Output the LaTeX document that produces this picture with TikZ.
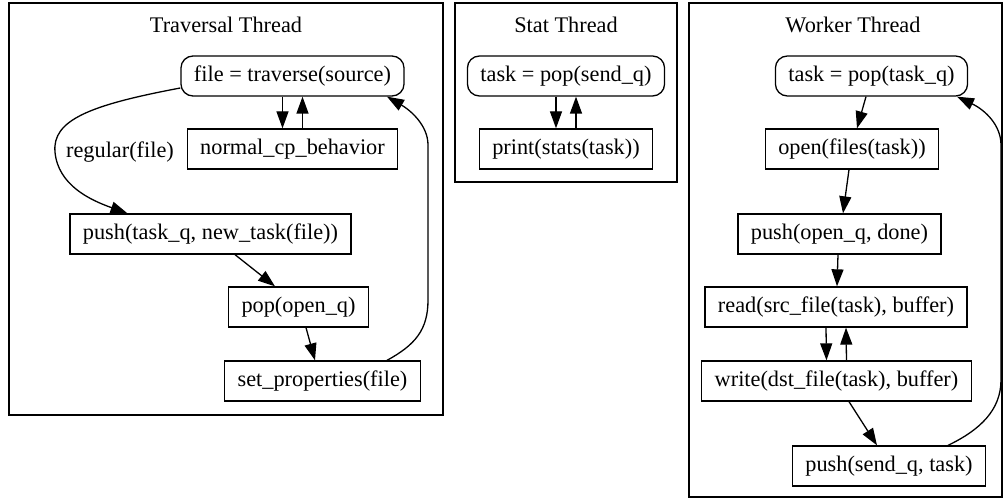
\documentclass[tikz,border=0pt]{standalone}
\usepackage{fontspec}
\setmainfont{Liberation Serif}
\usetikzlibrary{arrows.meta}

\begin{document}
\begin{tikzpicture}[x=1pt,y=-1pt,line width=1.3pt,
  every node/.style={font=\fontsize{22.3}{26}\selectfont},
  box/.style={draw,rectangle,minimum height=40pt,inner xsep=13pt},
  rbox/.style={box,rounded corners=12pt},
  title/.style={},
  arr/.style={-{Triangle[length=17pt,width=12pt]}}]
  		\useasboundingbox (0,0) rectangle (1005,500);
  		\draw (9,3) rectangle (443,415);
  		\draw (455,3) rectangle (677,182);
  		\draw (689,3) rectangle (1002,497);
  		\node[title] (travtitle) at (226,25) {Traversal Thread};
  		\node[title] (stattitle) at (566,25) {Stat Thread};
  		\node[title] (worktitle) at (853,25) {Worker Thread};

  		\node[rbox] (file)   at (292.5,76) {file = traverse(source)};
  		\node[box]  (normal) at (292.5,149) {normal\_cp\_behavior};
  		\node[box]  (newtask) at (210.5,234) {push(task\_q, new\_task(file))};
  		\node[box]  (popopen) at (298.5,307) {pop(open\_q)};
  		\node[box]  (setprop) at (322.5,381) {set\_properties(file)};
  		\node (reglbl) at (120,152) {regular(file)};

  		\draw[arr] ([xshift=-10pt]file.south) -- ([xshift=-10pt]normal.north);
  		\draw[arr] ([xshift=10pt]normal.north) -- ([xshift=10pt]file.south);
  		\draw[arr] ([yshift=-12pt]file.west) .. controls (90,105) and (52,120) .. (55,152)
  			.. controls (58,185) and (90,200) .. ([xshift=-83pt]newtask.north);
  		\draw[arr] ([xshift=24.5pt]newtask.south) -- ([xshift=-23.5pt]popopen.north);
  		\draw[arr] ([xshift=7.5pt]popopen.south) -- ([xshift=-7.5pt]setprop.north);
  		\draw[arr] ([xshift=64.5pt]setprop.north) .. controls (415,345) and (428,330) .. (428,300)
  			-- (428,145) .. controls (428,125) and (410,110) .. ([xshift=94.5pt]file.south);

  		\node[rbox] (sendpop) at (566,76) {task = pop(send\_q)};
  		\node[box]  (stats)   at (566,149) {print(stats(task))};
  		\draw[arr] ([xshift=-10pt]sendpop.south) -- ([xshift=-10pt]stats.north);
  		\draw[arr] ([xshift=10pt]stats.north) -- ([xshift=10pt]sendpop.south);

  		\node[rbox] (taskpop)  at (871.5,76) {task = pop(task\_q)};
  		\node[box]  (openf)    at (852,149) {open(files(task))};
  		\node[box]  (pushopen) at (839.5,234) {push(open\_q, done)};
  		\node[box]  (readf)    at (836,307) {read(src\_file(task), buffer)};
  		\node[box]  (writef)   at (836.5,381) {write(dst\_file(task), buffer)};
  		\node[box]  (pushsend) at (889,466) {push(send\_q, task)};

  		\draw[arr] ([xshift=-5.5pt]taskpop.south) -- ([xshift=5pt]openf.north);
  		\draw[arr] ([xshift=-3pt]openf.south) -- ([xshift=3.5pt]pushopen.north);
  		\draw[arr] ([xshift=-1.5pt]pushopen.south) -- ([xshift=1pt]readf.north);
  		\draw[arr] ([xshift=-10pt]readf.south) -- ([xshift=-10pt]writef.north);
  		\draw[arr] ([xshift=10pt]writef.north) -- ([xshift=10pt]readf.south);
  		\draw[arr] ([xshift=12.5pt]writef.south) -- ([xshift=-12pt]pushsend.north);
  		\draw[arr] ([xshift=59pt]pushsend.north) .. controls (980,430) and (1001,410) .. (1001,380)
  			-- (1001,145) .. controls (1001,125) and (985,110) .. ([xshift=85.5pt]taskpop.south);
\end{tikzpicture}
\end{document}
